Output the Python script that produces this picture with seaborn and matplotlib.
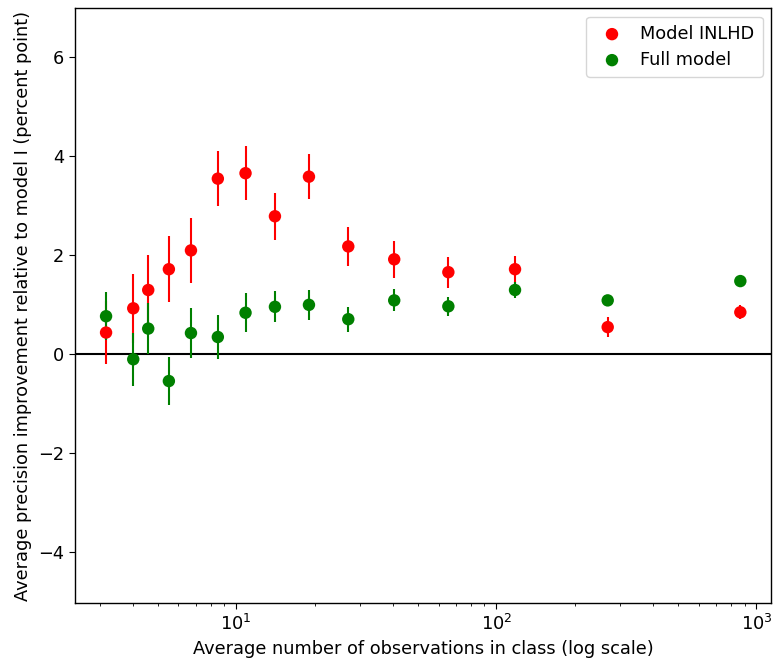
import matplotlib
matplotlib.use("Agg")
import matplotlib.pyplot as plt
import seaborn as sns
import pandas as pd
import numpy as np

# Average class size (observations per class)
class_size = [3.16, 4.02, 4.59, 5.51, 6.70, 8.50, 10.86, 14.09, 19.04, 26.97, 40.5, 65.4, 118, 268, 867]

# Model INLHD: mean improvement and error half-width
inlhd_mean = [0.44, 0.93, 1.30, 1.72, 2.10, 3.55, 3.66, 2.79, 3.59, 2.18, 1.92, 1.66, 1.72, 0.55, 0.85]
inlhd_err = [0.63, 0.70, 0.70, 0.67, 0.65, 0.56, 0.54, 0.47, 0.45, 0.39, 0.37, 0.31, 0.27, 0.20, 0.14]

# Full model: mean improvement and error half-width
full_mean = [0.77, -0.10, 0.52, -0.54, 0.43, 0.35, 0.84, 0.96, 1.00, 0.71, 1.09, 0.97, 1.30, 1.09, 1.48]
full_err = [0.48, 0.53, 0.52, 0.49, 0.50, 0.45, 0.39, 0.31, 0.30, 0.25, 0.22, 0.19, 0.16, 0.10, 0.08]

series_names = ["Model INLHD", "Full model"]
series_colors = ["red", "green"]

df = pd.concat([
    pd.DataFrame({"size": class_size, "value": inlhd_mean, "err": inlhd_err, "model": series_names[0]}),
    pd.DataFrame({"size": class_size, "value": full_mean, "err": full_err, "model": series_names[1]}),
], ignore_index=True)

sns.set_style("white")
plt.rcParams["font.family"] = ["DejaVu Sans"]
plt.rcParams["text.color"] = "black"
plt.rcParams["axes.labelcolor"] = "black"
plt.rcParams["xtick.color"] = "black"
plt.rcParams["ytick.color"] = "black"

FS = 12.8

fig = plt.figure(figsize=(7.73, 6.6), dpi=100)
ax = fig.add_axes([0.097, 0.086, 0.901, 0.902])

for name, color in zip(series_names, series_colors):
    sub = df[df["model"] == name]
    ax.errorbar(sub["size"], sub["value"], yerr=sub["err"], fmt="none",
                ecolor=color, elinewidth=1.5, capsize=0, zorder=2)
    sns.scatterplot(data=sub, x="size", y="value", color=color, s=80,
                    edgecolor="none", label=name, ax=ax, zorder=3)

ax.axhline(0, color="black", lw=1.5, zorder=1)
ax.set_xscale("log")
ax.set_xlim(2.40, 1142)
ax.set_ylim(-5.03, 7.0)
ax.set_yticks([-4, -2, 0, 2, 4, 6])

for s in ax.spines.values():
    s.set_color("black")
    s.set_linewidth(1.0)
ax.tick_params(axis="both", which="major", direction="out", length=4.5, width=0.8,
               colors="black", labelsize=FS, left=True, bottom=True)
ax.tick_params(axis="x", which="minor", direction="out", length=2.5, width=0.6,
               colors="black", bottom=True)

ax.set_xlabel("Average number of observations in class (log scale)", fontsize=FS)
ax.set_ylabel("Average precision improvement relative to model I (percent point)", fontsize=FS)

leg = ax.legend(loc="upper right", fontsize=FS, frameon=True, borderpad=0.45,
                handletextpad=0.6, labelspacing=0.45)
leg.get_frame().set_edgecolor("#cccccc")
for t in leg.get_texts():
    t.set_color("black")

fig.savefig("out.png", dpi=100)
